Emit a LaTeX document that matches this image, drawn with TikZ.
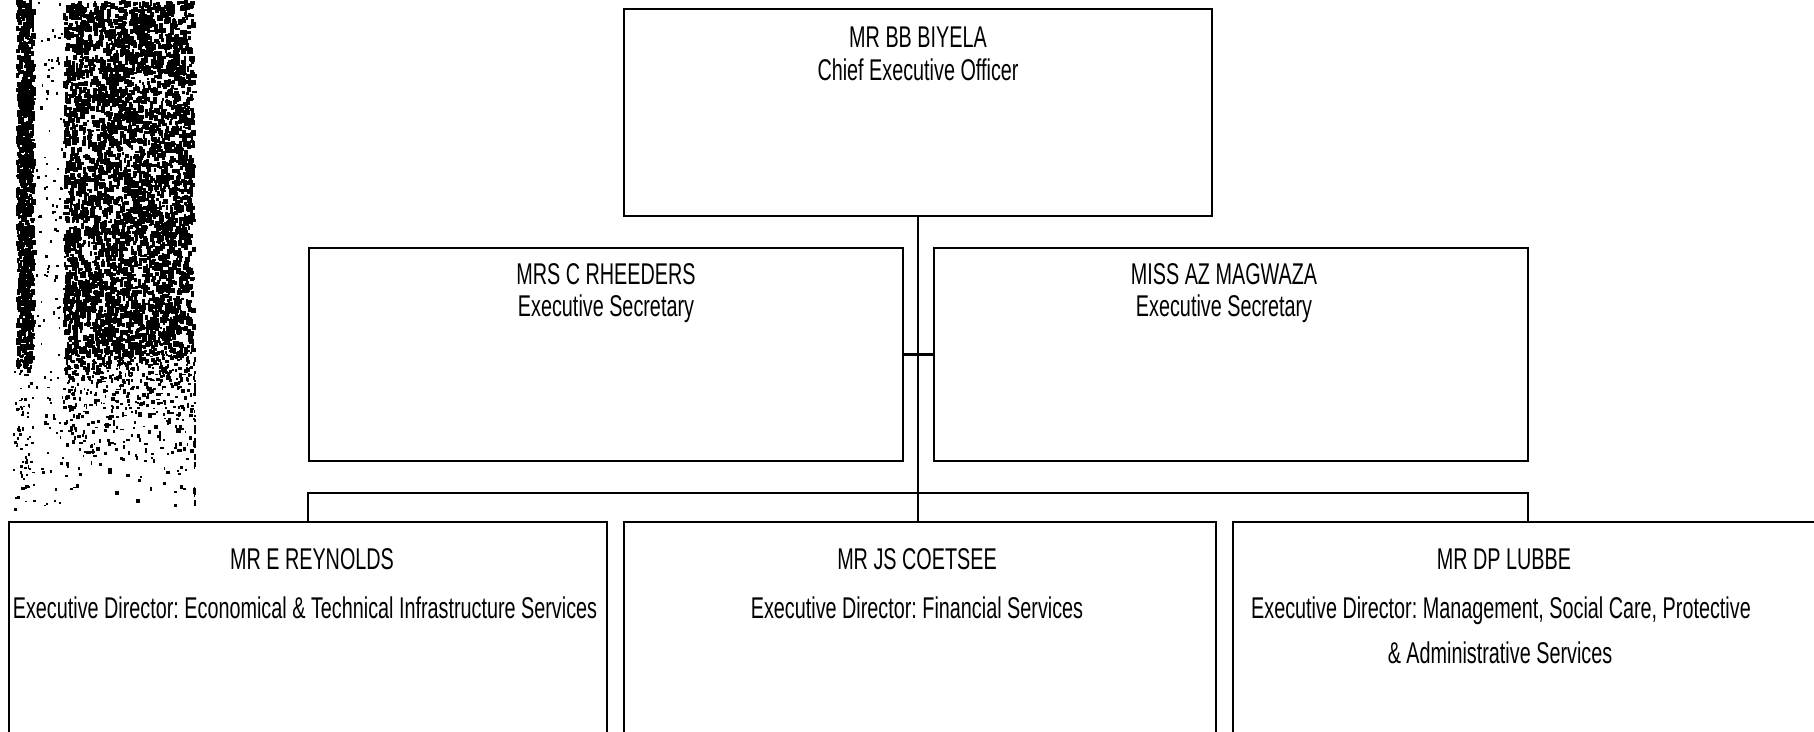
\documentclass[tikz,border=0pt]{standalone}
\usepackage{fontspec}
\setmainfont{Liberation Sans}[FakeStretch=0.66]
\usetikzlibrary{fit}
\frenchspacing
\begin{document}
\begin{tikzpicture}[x=0.5pt,y=-0.5pt,
  orgbox/.style={draw=black, line width=1.25pt, inner sep=0pt},
  wire/.style={draw=black, line width=1.15pt},
  lbl/.style={font=\fontsize{15}{18}\selectfont, anchor=base, inner sep=0pt},
  speck/.style={fill=black}]
\useasboundingbox (0,0) rectangle (1814,732);
\clip (0,0) rectangle (1814,732);
\fill[white] (0,0) rectangle (1814,732);

% grainy scanned strip on the left edge
\pgfmathsetseed{2718}
\foreach \i in {1,...,950}
  \fill[speck] ({16+16*rnd},{367*rnd}) rectangle ++({2+3*rnd},{2+5*rnd});
\foreach \i in {1,...,70}
  \fill[speck] ({13+20*rnd},{367+143*rnd}) rectangle ++({1.5+1.5*rnd},{1.5+2*rnd});
\foreach \i in {1,...,110}
  \fill[speck] ({36+26*rnd},{510*rnd}) rectangle ++({1.5+1.5*rnd},{1.5+2*rnd});
\foreach \i in {1,...,3600}
  \fill[speck] ({63+129*rnd},{350*rnd}) rectangle ++({2+3*rnd},{2+5*rnd});
\foreach \i in {1,...,650}
  \fill[speck] ({63+129*rnd},{350+160*rnd*rnd}) rectangle ++({1.5+2.5*rnd},{1.5+3*rnd});
\foreach \i in {1,...,40}
  \fill[speck] ({193+1.5*rnd},{350+160*rnd}) rectangle ++(1.8,{2+3*rnd});

% boxes
\node[orgbox, fit={(624,9) (1212,216)}] (ceo) {};
\node[orgbox, fit={(309,248) (903,461)}] (secL) {};
\node[orgbox, fit={(934,248) (1528,461)}] (secR) {};
\node[orgbox, fit={(9,522) (607,780)}] (ret) {};
\node[orgbox, fit={(624,522) (1216,780)}] (fin) {};
\node[orgbox, fit={(1233,522) (1823,780)}] (dpl) {};

% connectors
\coordinate (bar) at (918,493);
\draw[wire] (ceo.south) -- (ceo.south |- fin.north);
\draw[wire] (secL.east) -- (secR.west);
\draw[wire] (ret.north) |- (bar) -| (dpl.north);

% texts
\node[lbl] (ceoName) at (918,48) {MR BB BIYELA};
\node[lbl] (ceoRole) at (918,81) {Chief Executive Officer};

\node[lbl] (secLName) at (606,285) {MRS C RHEEDERS};
\node[lbl] (secLRole) at (606,317) {Executive Secretary};
\node[lbl] (secRName) at (1224,285) {MISS AZ MAGWAZA};
\node[lbl] (secRRole) at (1224,317) {Executive Secretary};

\node[lbl] (retName) at (312,569) {MR E REYNOLDS};
\node[lbl] (retRole) at (305,618) {Executive Director: Economical \& Technical Infrastructure Services};
\node[lbl] (finName) at (917,569) {MR JS COETSEE};
\node[lbl] (finRole) at (917,618) {Executive Director: Financial Services};
\node[lbl] (dplName) at (1504,569) {MR DP LUBBE};
\node[lbl] (dplRole) at (1501,618) {Executive Director: Management, Social Care, Protective};
\node[lbl] (dplRole2) at (1500,663) {\& Administrative Services};
\end{tikzpicture}
\end{document}
